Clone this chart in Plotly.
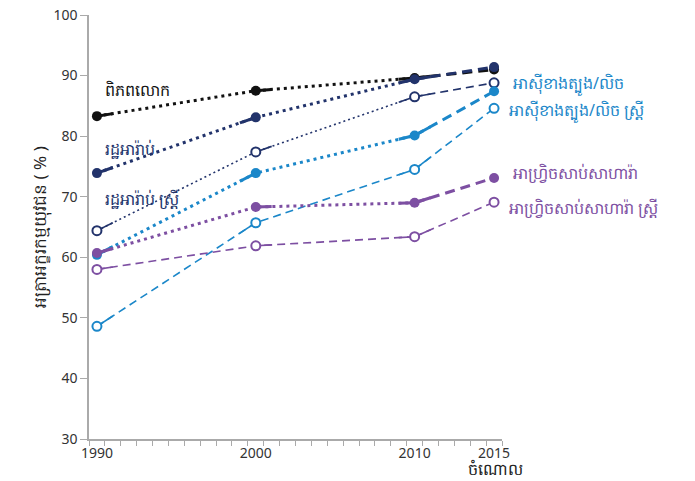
import numpy as np
import plotly.graph_objects as go

years = [1990, 2000, 2010, 2015]
world = [83.3, 87.5, 89.6, 91.0]
arab = [73.9, 83.1, 89.4, 91.4]
arab_f = [64.4, 77.4, 86.5, 88.8]
swa = [60.4, 73.9, 80.1, 87.4]
swa_f = [48.6, 65.7, 74.5, 84.6]
ssa = [60.7, 68.3, 69.0, 73.1]
ssa_f = [58.0, 61.9, 63.4, 69.1]

series_names = ["ពិភពលោក", "រដ្ឋអារ៉ាប់", "រដ្ឋអារ៉ាប់ ស្ត្រី",
                "អាស៊ីខាងត្បូង/លិច", "អាស៊ីខាងត្បូង/លិច ស្ត្រី",
                "អាហ្វ្រិចសាប់សាហារ៉ា", "អាហ្វ្រិចសាប់សាហារ៉ា ស្ត្រី"]
xtick_vals = [1990, 2000, 2010, 2015]
ytick_vals = [30, 40, 50, 60, 70, 80, 90, 100]
x_title = "ចំណោល"
y_title = "អត្រាអក្ខរកម្មយុវជន ( % )"

BLACK = "#111111"
NAVY = "#22336b"
BLUE = "#1b87c9"
PURPLE = "#7d4fa2"

styles = [
    dict(y=world, c=BLACK, filled=True, early="3px,4px", side=1),
    dict(y=arab, c=NAVY, filled=True, early="3px,4px", side=-1),
    dict(y=arab_f, c=NAVY, filled=False, early="2px,3px", side=1),
    dict(y=swa, c=BLUE, filled=True, early="3px,4px", side=-1),
    dict(y=swa_f, c=BLUE, filled=False, early="8px,5px", side=-1),
    dict(y=ssa, c=PURPLE, filled=True, early="3px,4px", side=1),
    dict(y=ssa_f, c=PURPLE, filled=False, early="8px,5px", side=1),
]

fig = go.Figure()
xs = np.array(years, dtype=float)


def seg(x0, x1, ys):
    return [x0, x1], list(np.interp([x0, x1], xs, ys))


for name, s in zip(series_names, styles):
    ys = np.array(s["y"], dtype=float)
    w = 3 if s["filled"] else 1.6
    fig.add_trace(go.Scatter(x=years[:3], y=s["y"][:3], mode="lines",
                             line=dict(color=s["c"], width=w, dash=s["early"]),
                             hoverinfo="skip", showlegend=False))
    fig.add_trace(go.Scatter(x=years[2:], y=s["y"][2:], mode="lines",
                             line=dict(color=s["c"], width=w,
                                       dash="10px,6px" if s["filled"] else "8px,5px"),
                             hoverinfo="skip", showlegend=False))
    stubs = [(1990, 1991.0), (2000, 2000 + 1.0 * s["side"]), (2009.0, 2010), (2010, 2011.0)]
    for a, b in stubs:
        sx, sy = seg(min(a, b), max(a, b), ys)
        fig.add_trace(go.Scatter(x=sx, y=sy, mode="lines",
                                 line=dict(color=s["c"], width=w),
                                 hoverinfo="skip", showlegend=False))
    fig.add_trace(go.Scatter(
        x=years, y=s["y"], mode="markers", name=name, showlegend=False,
        marker=dict(size=10 if s["filled"] else 9,
                    color=s["c"] if s["filled"] else "white",
                    line=dict(color=s["c"], width=0 if s["filled"] else 2))))

font_fam = "Noto Sans, Open Sans, sans-serif"
labels = [
    (series_names[0], 1990.35, "x", 87.7, BLACK),
    (series_names[1], 1990.35, "x", 77.9, NAVY),
    (series_names[2], 1990.35, "x", 69.6, NAVY),
    (series_names[3], 1.023, "paper", 88.6, BLUE),
    (series_names[4], 1.013, "paper", 84.1, BLUE),
    (series_names[5], 1.023, "paper", 73.9, PURPLE),
    (series_names[6], 1.013, "paper", 68.1, PURPLE),
]
for t, x, xr, y, c in labels:
    fig.add_annotation(x=x, xref=xr, y=y, yref="y", text=t, showarrow=False,
                       xanchor="left", yanchor="middle",
                       font=dict(size=16, color=c, family=font_fam))

fig.add_annotation(x=0.985, y=-0.041, xref="paper", yref="paper", text=x_title, showarrow=False,
                   xanchor="center", yanchor="top", font=dict(size=16, color="#222", family=font_fam))
fig.add_annotation(x=-0.119, y=0.5, xref="paper", yref="paper", text=y_title, showarrow=False,
                   textangle=-90, xanchor="center", yanchor="middle",
                   font=dict(size=17, color="#222", family=font_fam))

axis_col = "#aaaaaa"
fig.update_layout(
    width=695, height=481,
    margin=dict(l=81, r=201, t=7, b=50, autoexpand=False),
    paper_bgcolor="white", plot_bgcolor="white",
    font=dict(family=font_fam, color="#333"),
    xaxis=dict(range=[1989.5, 2015.5], tickvals=xtick_vals, ticks="", showgrid=False,
               automargin=False,
               showline=True, linecolor=axis_col, linewidth=1.5, zeroline=False,
               tickfont=dict(size=14, color="#333"),
               minor=dict(tick0=1989.5, dtick=1, ticks="outside", ticklen=5,
                          tickcolor=axis_col, showgrid=False)),
    yaxis=dict(range=[30, 100], tickvals=ytick_vals, ticks="outside", ticklen=7, tickcolor=axis_col,
               automargin=False, ticklabeloverflow="allow",
               showgrid=False, showline=True, linecolor=axis_col, linewidth=1.5,
               zeroline=False, tickfont=dict(size=14, color="#333")),
)

fig.write_html("out.html")
